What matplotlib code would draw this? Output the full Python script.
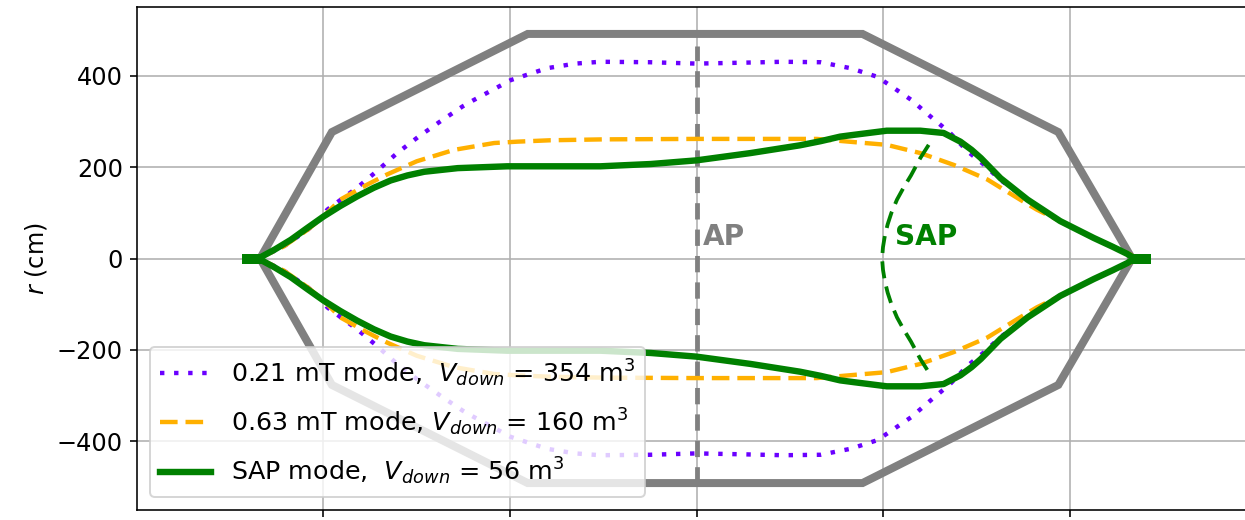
import numpy as np
from matplotlib import pyplot as plt

# wall outline (upper half, mirrored for the lower half)
wall_x = [-468, -391, -181, 178, 388, 467]
wall_r = [0, 277, 492, 492, 277, 0]

# 0.21 mT mode boundary (upper half)
m021_x = [-470, -443, -417, -400, -396, -364, -343, -321, -298, -275, -251, -239, -199, -160, -130,
          -103, -50, 0, 50, 93, 133, 165, 194, 230, 251, 272, 290, 308, 326, 355, 390, 426, 466, 470]
m021_r = [0, 26, 63, 92, 107, 155, 191, 231, 267, 300, 333, 347, 391, 417, 427,
          431, 430, 427, 429, 431, 430, 417, 398, 348, 311, 275, 236, 206, 172, 129, 82, 45, 8, 0]

# 0.63 mT mode boundary (upper half)
m063_x = [-470, -443, -417, -400, -382, -353, -332, -300, -260, -217, -192, -157, -100, 0,
          129, 169, 204, 240, 276, 312, 347, 365, 390, 426, 466, 470]
m063_r = [0, 26, 63, 92, 129, 162, 184, 213, 238, 253, 256, 259, 261, 262,
          262, 255, 249, 231, 205, 173, 129, 107, 82, 45, 8, 0]

# SAP mode boundary (upper half)
sap_x = [-470, -452, -435, -418, -400, -382, -364, -346, -328, -310, -292, -256, -203, -150,
         -103, -49, 0, 58, 111, 133, 154, 169, 204, 240, 265, 283, 295, 305, 326, 355, 390,
         426, 446, 462, 470]
sap_r = [0, 20, 41, 66, 92, 115, 136, 155, 171, 182, 190, 198, 202, 202,
         202, 207, 215, 231, 248, 257, 267, 271, 280, 280, 275, 256, 238, 220, 176, 129, 82,
         45, 26, 10, 0]

# SAP surface arc (upper half, mirrored)
arc_x = [249, 240, 230, 222, 215, 209, 205, 202, 200, 199]
arc_r = [249, 220, 182, 155, 129, 100, 75, 50, 25, 0]

# axis line and end markers
ap_x = [0, 0]
ap_r = [-492, 466]
end_x = [-487, -466, 466, 487]

v_down = [354, 160, 56]

plt.rcParams['font.size'] = 12
fig = plt.figure(figsize=(1245 / 144, 520 / 144), dpi=144)
ax = fig.add_axes([137 / 1245, 10 / 520, 1119 / 1245, 503 / 520])

c_purple = '#6a00ff'
c_orange = '#ffb000'
c_green = 'green'
c_gray = 'gray'

wx = np.array(wall_x)
wr = np.array(wall_r)
ax.plot(wx, wr, color=c_gray, lw=4, solid_joinstyle='miter', zorder=2)
ax.plot(wx, -wr, color=c_gray, lw=4, solid_joinstyle='miter', zorder=2)

ax.plot(ap_x, ap_r, color=c_gray, lw=2.4, ls=(0, (3.4, 2.1)), zorder=2)
ax.text(7, 48, 'AP', color=c_gray, fontsize=14, fontweight='bold', va='center', ha='left')

mx = np.array(m021_x)
mr = np.array(m021_r)
ax.plot(mx, mr, color=c_purple, lw=2.2, ls=(0, (1, 2.2)), zorder=3,
        label=r'0.21 mT mode,  $V_{down}$ = %d m$^3$' % v_down[0])
ax.plot(mx, -mr, color=c_purple, lw=2.2, ls=(0, (1, 2.2)), zorder=3)

ox = np.array(m063_x)
orr = np.array(m063_r)
ax.plot(ox, orr, color=c_orange, lw=2.2, ls=(0, (4, 1.8)), zorder=3,
        label=r'0.63 mT mode, $V_{down}$ = %d m$^3$' % v_down[1])
ax.plot(ox, -orr, color=c_orange, lw=2.2, ls=(0, (4, 1.8)), zorder=3)

sx = np.array(sap_x)
sr = np.array(sap_r)
ax.plot(sx, sr, color=c_green, lw=3.2, zorder=4,
        label=r'SAP mode,  $V_{down}$ = %d m$^3$' % v_down[2])
ax.plot(sx, -sr, color=c_green, lw=3.2, zorder=4)
ax.plot(end_x[:2], [0, 0], color=c_green, lw=5, solid_capstyle='butt', zorder=4)
ax.plot(end_x[2:], [0, 0], color=c_green, lw=5, solid_capstyle='butt', zorder=4)

ar = np.array(arc_r)
ax.plot(arc_x + arc_x[::-1][1:], list(ar) + list(-ar[::-1][1:]), color=c_green, lw=1.9,
        ls=(0, (4.5, 2.2)), zorder=4)
ax.text(213, 48, 'SAP', color=c_green, fontsize=14, fontweight='bold', va='center', ha='left')

ax.set_xlim(-600, 600)
ax.set_ylim(-551, 551)
ax.set_xticks([-400, -200, 0, 200, 400])
ax.set_yticks([-400, -200, 0, 200, 400])
ax.tick_params(labelbottom=False)
ax.set_ylabel(r'$r$ (cm)')
ax.grid(True)
ax.set_axisbelow(True)
ax.legend(loc='lower left', fontsize=12.7, labelspacing=0.7)

fig.savefig('out.png', dpi=144)
